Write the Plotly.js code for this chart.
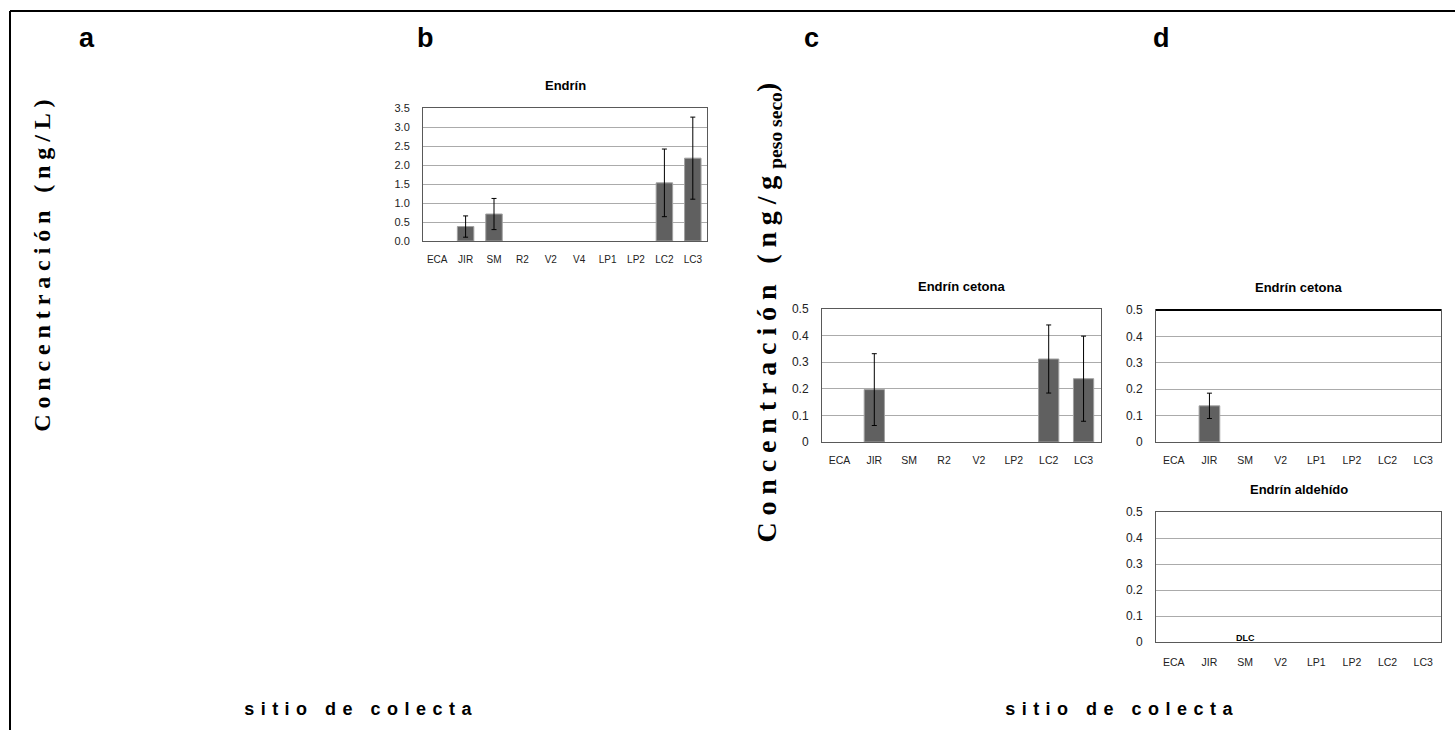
<!DOCTYPE html>
<html>
<head>
<meta charset="utf-8">
<script src="https://cdn.plot.ly/plotly-3.0.1.min.js"></script>
<style>
html,body{margin:0;padding:0;background:#fff;}
#chart{width:1455px;height:730px;}
</style>
</head>
<body>
<div id="chart"></div>
<script>
// ---- data ----
const sitesB = ['ECA','JIR','SM','R2','V2','V4','LP1','LP2','LC2','LC3'];
const endrinB = [null,0.38,0.71,null,null,null,null,null,1.53,2.18];
const endrinBErr = [null,0.28,0.41,null,null,null,null,null,0.89,1.08];

const sitesC = ['ECA','JIR','SM','R2','V2','LP2','LC2','LC3'];
const cetonaC = [null,0.197,null,null,null,null,0.312,0.238];
const cetonaCErr = [null,0.135,null,null,null,null,0.128,0.16];

const sitesD = ['ECA','JIR','SM','V2','LP1','LP2','LC2','LC3'];
const cetonaD = [null,0.137,null,null,null,null,null,null];
const cetonaDErr = [null,0.048,null,null,null,null,null,null];
const aldehidoD = [null,null,null,null,null,null,null,null];

const panelLabels = ['a','b','c','d'];
const titles = ['Endrín','Endrín cetona','Endrín cetona','Endrín aldehído'];
const yTitleWater = 'Concentración (ng/L)';
const yTitleSed = 'Concentración (ng/g<sub>peso seco</sub>)';
const subText = 'peso seco';
const xTitle = 'sitio de colecta';
const dlcSite = 'SM';
const dlcText = 'DLC';

// ---- styling ----
const W = 1455, H = 730;
const px = v => v / W;
const py = v => 1 - v / H;
const barFill = '#606060';
const barLine = '#a0a0a0';
const sans = 'Liberation Sans, Arial, sans-serif';
const serif = 'Liberation Serif, Times New Roman, serif';

function barTrace(x, y, err, xa, ya) {
  return {
    type: 'bar', x: x, y: y, xaxis: xa, yaxis: ya,
    marker: {color: barFill, line: {color: barLine, width: 1}},
    error_y: {type: 'data', array: err, visible: true, color: '#000', thickness: 1, width: 2.5},
    showlegend: false, hoverinfo: 'x+y'
  };
}

const data = [
  barTrace(sitesB, endrinB, endrinBErr, 'x', 'y'),
  barTrace(sitesC, cetonaC, cetonaCErr, 'x2', 'y2'),
  barTrace(sitesD, cetonaD, cetonaDErr, 'x3', 'y3'),
  barTrace(sitesD, aldehidoD, aldehidoD, 'x4', 'y4')
];

function xAxis(dom, cats, anchor, fs, standoff) {
  return {
    domain: dom, anchor: anchor, type: 'category',
    categoryorder: 'array', categoryarray: cats,
    showline: true, linecolor: '#595959', linewidth: 1, mirror: true,
    showgrid: false, ticks: '', ticklabelstandoff: standoff,
    tickfont: {family: sans, size: fs, color: '#222'},
    fixedrange: true
  };
}
function yAxis(dom, range, dtick, fmt, anchor, fs) {
  return {
    domain: dom, anchor: anchor, range: range, dtick: dtick, tick0: 0,
    tickformat: fmt,
    showline: true, linecolor: '#595959', linewidth: 1, mirror: true,
    showgrid: true, gridcolor: '#ababab', gridwidth: 1,
    zeroline: false, ticks: '', ticklabelstandoff: 10,
    tickfont: {family: sans, size: fs, color: '#222'},
    fixedrange: true
  };
}

const annotations = [];
// panel letters
[[87,'a'],[425,'b'],[811,'c'],[1161,'d']].forEach((p,i) => {
  annotations.push({xref:'paper', yref:'paper', x: px(p[0]), y: py(38), text: panelLabels[i],
    showarrow:false, xanchor:'center', yanchor:'middle',
    font:{family: sans, size: 27, color:'#000', weight: 'bold'}});
});
// subplot titles
[['x','y'],['x2','y2'],['x3','y3'],['x4','y4']].forEach((r,i) => {
  annotations.push({xref: r[0]+' domain', yref: r[1]+' domain', x: 0.5, y: 1, yshift: 13,
    text: titles[i], showarrow:false, xanchor:'center', yanchor:'bottom',
    font:{family: sans, size: 13, color:'#000', weight: 'bold'}});
});
// big y titles
annotations.push({xref:'paper', yref:'paper', x: px(42), y: py(263), text: yTitleWater,
  textangle: -90, showarrow:false, xanchor:'center', yanchor:'middle',
  font:{family: serif, size: 24, color:'#000', weight:'bold'}});
annotations.push({xref:'paper', yref:'paper', x: px(768), y: py(309), text: yTitleSed,
  textangle: -90, showarrow:false, xanchor:'center', yanchor:'middle',
  font:{family: serif, size: 28, color:'#000', weight:'bold'}});
// x titles
annotations.push({xref:'paper', yref:'paper', x: px(361), y: py(709), text: xTitle,
  showarrow:false, xanchor:'center', yanchor:'middle',
  font:{family: sans, size: 18, color:'#000', weight:'bold'}});
annotations.push({xref:'paper', yref:'paper', x: px(1122), y: py(709), text: xTitle,
  showarrow:false, xanchor:'center', yanchor:'middle',
  font:{family: sans, size: 18, color:'#000', weight:'bold'}});
// DLC marker
annotations.push({xref:'x4', yref:'y4', x: dlcSite, y: 0, text: dlcText, showarrow:false,
  xanchor:'center', yanchor:'bottom', yshift: -3,
  font:{family: sans, size: 9, color:'#000', weight:'bold'}});

const shapes = [
  // figure frame (top and left edges)
  {type:'line', xref:'paper', yref:'paper', x0: px(10), x1: 1.01, y0: py(11), y1: py(11), line:{color:'#000', width:2}},
  {type:'line', xref:'paper', yref:'paper', x0: px(10), x1: px(10), y0: py(11), y1: -0.01, line:{color:'#000', width:2}},
  // heavier top edge on panel d (upper)
  {type:'line', xref:'x3 domain', yref:'y3 domain', x0: 0, x1: 1, y0: 1, y1: 1, line:{color:'#000', width:2}}
];

const layout = {
  width: W, height: H,
  margin: {l:0, r:0, t:0, b:0},
  paper_bgcolor: '#fff', plot_bgcolor: '#fff',
  bargap: 0.42,
  showlegend: false,
  xaxis: xAxis([px(423), px(707)], sitesB, 'y', 10, 9),
  yaxis: yAxis([py(241), py(108)], [0,3.5], 0.5, '.1f', 'x', 11),
  xaxis2: xAxis([px(822), px(1101)], sitesC, 'y2', 10.5, 8),
  yaxis2: yAxis([py(442), py(309)], [0,0.5], 0.1, '', 'x2', 12),
  xaxis3: xAxis([px(1156), px(1441)], sitesD, 'y3', 10.5, 8),
  yaxis3: yAxis([py(442), py(310)], [0,0.5], 0.1, '', 'x3', 12),
  xaxis4: xAxis([px(1156), px(1441)], sitesD, 'y4', 10.5, 10),
  yaxis4: yAxis([py(642), py(512)], [0,0.5], 0.1, '', 'x4', 12),
  annotations: annotations,
  shapes: shapes,
  font: {family: sans}
};

Plotly.newPlot('chart', data, layout, {displayModeBar: false, staticPlot: true}).then(() => {
  document.querySelectorAll('.annotation-text').forEach(t => {
    const s = t.textContent;
    if (s.indexOf('Concentración') === 0) {
      t.style.letterSpacing = '0.245em';
      t.querySelectorAll('tspan').forEach(ts => {
        if (ts.textContent.trim() === subText) ts.style.letterSpacing = '0';
      });
    } else if (s === xTitle) {
      t.style.letterSpacing = '0.36em';
    }
  });
});
</script>
</body>
</html>
